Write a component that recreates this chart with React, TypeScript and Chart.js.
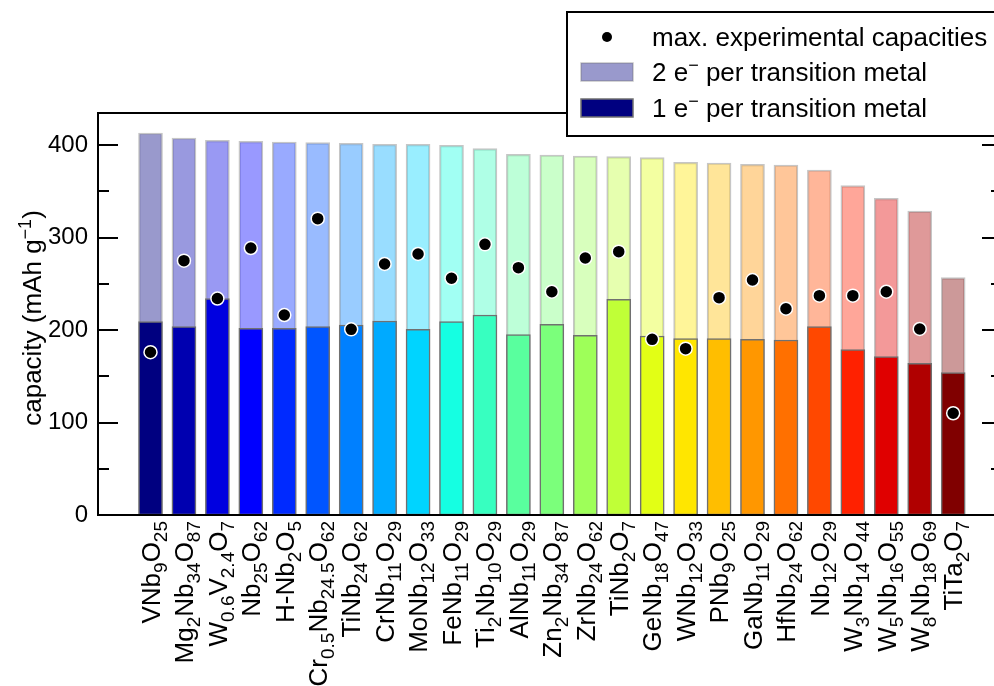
import React, { useEffect, useRef } from "react";
import { Chart, registerables } from "chart.js";

Chart.register(...registerables);

// ---------------- data ----------------
const categories = [
  "VNb_{9}O_{25}",
  "Mg_{2}Nb_{34}O_{87}",
  "W_{0.6}V_{2.4}O_{7}",
  "Nb_{25}O_{62}",
  "H-Nb_{2}O_{5}",
  "Cr_{0.5}Nb_{24.5}O_{62}",
  "TiNb_{24}O_{62}",
  "CrNb_{11}O_{29}",
  "MoNb_{12}O_{33}",
  "FeNb_{11}O_{29}",
  "Ti_{2}Nb_{10}O_{29}",
  "AlNb_{11}O_{29}",
  "Zn_{2}Nb_{34}O_{87}",
  "ZrNb_{24}O_{62}",
  "TiNb_{2}O_{7}",
  "GeNb_{18}O_{47}",
  "WNb_{12}O_{33}",
  "PNb_{9}O_{25}",
  "GaNb_{11}O_{29}",
  "HfNb_{24}O_{62}",
  "Nb_{12}O_{29}",
  "W_{3}Nb_{14}O_{44}",
  "W_{5}Nb_{16}O_{55}",
  "W_{8}Nb_{18}O_{69}",
  "TiTa_{2}O_{7}",
];

const twoElectron = [
  413, 407.6, 405, 404, 403.2, 402.5, 401.8, 400.7, 400.7, 399.6, 396, 389.9,
  389.2, 388.1, 387.4, 386.3, 381.3, 380.5, 379.1, 378.4, 373, 356, 342.3,
  328.6, 256.6,
];

const oneElectron = [
  209, 203.6, 233.9, 201.8, 201.8, 203.6, 205.4, 209.7, 200.7, 209, 216.2, 195,
  206.1, 194.3, 233.2, 193.5, 190.6, 190.6, 189.9, 189.2, 203.6, 178.7, 171.2,
  164, 153.9,
];

const experimental = [
  176, 275, 234, 288.6, 216.2, 320.4, 200.7, 271.4, 282.2, 255.9, 292.6, 267.4,
  241.4, 277.8, 284.7, 189.9, 179.8, 235, 254, 223, 237.1, 237.1, 241.4, 201.1,
  110,
];

const majorTicks = [0, 100, 200, 300, 400];
const minorTicks = [50, 150, 250, 350];

const legendLabels = [
  "max. experimental capacities",
  "2 e^{\u2212} per transition metal",
  "1 e^{\u2212} per transition metal",
];
const yTitle = "capacity (mAh g^{\u22121})";

// ---------------- styles ----------------
const FONT = '"Liberation Sans", Arial, Helvetica, sans-serif';
const CANVAS_W = 1010;
const CANVAS_H = 686;

const jetR: number[][] = [[0, 0], [0.35, 0], [0.66, 1], [0.89, 1], [1, 0.5]];
const jetG: number[][] = [[0, 0], [0.125, 0], [0.375, 1], [0.64, 1], [0.91, 0], [1, 0]];
const jetB: number[][] = [[0, 0.5], [0.11, 1], [0.34, 1], [0.65, 0], [1, 0]];

function seg(pts: number[][], t: number) {
  for (let i = 1; i < pts.length; i++) {
    if (t <= pts[i][0]) {
      const [x0, y0] = pts[i - 1];
      const [x1, y1] = pts[i];
      return y0 + ((t - x0) / (x1 - x0)) * (y1 - y0);
    }
  }
  return pts[pts.length - 1][1];
}
function jet(t: number) {
  return [
    Math.round(seg(jetR, t) * 255),
    Math.round(seg(jetG, t) * 255),
    Math.round(seg(jetB, t) * 255),
  ];
}
const n = categories.length;
const baseColors = categories.map((_, i) => jet(i / (n - 1)));
const darkColors = baseColors.map(([r, g, b]) => `rgb(${r},${g},${b})`);
const lightColors = baseColors.map(([r, g, b]) => `rgba(${r},${g},${b},0.4)`);
const darkEdge = "rgb(112,112,112)";
const lightEdge = "rgba(112,112,112,0.4)";

// ---------------- rich text helper ----------------
type Part = { t: string; k: "n" | "sub" | "sup" };
function parseRich(s: string): Part[] {
  const out: Part[] = [];
  const re = /([_^])\{([^}]*)\}/g;
  let last = 0;
  let m: RegExpExecArray | null;
  while ((m = re.exec(s))) {
    if (m.index > last) out.push({ t: s.slice(last, m.index), k: "n" });
    out.push({ t: m[2], k: m[1] === "_" ? "sub" : "sup" });
    last = re.lastIndex;
  }
  if (last < s.length) out.push({ t: s.slice(last), k: "n" });
  return out;
}
function richWidth(ctx: CanvasRenderingContext2D, parts: Part[], size: number, small: number) {
  let w = 0;
  for (const p of parts) {
    ctx.font = `${p.k === "n" ? size : small}px ${FONT}`;
    w += ctx.measureText(p.t).width;
  }
  return w;
}
function drawRich(
  ctx: CanvasRenderingContext2D,
  s: string,
  x: number,
  y: number,
  size: number,
  align: "left" | "right" | "center",
  opts: { small: number; subShift: number; supShift: number }
) {
  const parts = parseRich(s);
  const w = richWidth(ctx, parts, size, opts.small);
  let cx = align === "left" ? x : align === "right" ? x - w : x - w / 2;
  ctx.textAlign = "left";
  ctx.textBaseline = "alphabetic";
  for (const p of parts) {
    ctx.font = `${p.k === "n" ? size : opts.small}px ${FONT}`;
    const dy = p.k === "sub" ? opts.subShift : p.k === "sup" ? -opts.supShift : 0;
    ctx.fillText(p.t, cx, y + dy);
    cx += ctx.measureText(p.t).width;
  }
}

// ---------------- custom drawing plugin ----------------
const framePlugin = {
  id: "frame",
  afterDraw(chart: any) {
    const ctx: CanvasRenderingContext2D = chart.ctx;
    const { left, right, top, bottom } = chart.chartArea;
    const xs = chart.scales.x;
    const ys = chart.scales.y;
    ctx.save();
    ctx.fillStyle = "#000";
    ctx.strokeStyle = "#000";
    ctx.lineWidth = 2;

    // ticks (inward, both sides)
    const drawTick = (v: number, len: number) => {
      const py = Math.round(ys.getPixelForValue(v));
      ctx.beginPath();
      ctx.moveTo(left, py);
      ctx.lineTo(left + len, py);
      ctx.moveTo(right, py);
      ctx.lineTo(right - len, py);
      ctx.stroke();
    };
    majorTicks.forEach((v) => drawTick(v, 20));
    minorTicks.forEach((v) => drawTick(v, 11));

    // spines
    ctx.beginPath();
    ctx.rect(left, top, right - left, bottom - top);
    ctx.stroke();

    // x labels (rotated, with subscripts)
    const size = 26;
    const capH = size * 0.716;
    categories.forEach((lab, i) => {
      const cx = xs.getPixelForValue(i);
      ctx.save();
      ctx.translate(cx + capH / 2, bottom + 6);
      ctx.rotate(-Math.PI / 2);
      drawRich(ctx, lab, 0, 0, size, "right", { small: 19, subShift: 7, supShift: 10 });
      ctx.restore();
    });

    // y title
    ctx.save();
    ctx.translate(41, (top + bottom) / 2 + 4);
    ctx.rotate(-Math.PI / 2);
    drawRich(ctx, yTitle, 0, 0, 26, "center", { small: 18, subShift: 7, supShift: 10 });
    ctx.restore();

    // legend
    const lx = 567, ly = 12, lw = 440, lh = 124;
    ctx.fillStyle = "#fff";
    ctx.fillRect(lx, ly, lw, lh);
    ctx.lineWidth = 2;
    ctx.strokeStyle = "#000";
    ctx.strokeRect(lx, ly, lw, lh);
    const rows = [37, 72, 108];
    ctx.fillStyle = "#000";
    ctx.beginPath();
    ctx.arc(607, rows[0], 5, 0, Math.PI * 2);
    ctx.fill();
    const patch = (y: number, fill: string, edge: string) => {
      ctx.fillStyle = fill;
      ctx.fillRect(581, y - 9, 52, 18);
      ctx.strokeStyle = edge;
      ctx.lineWidth = 1.5;
      ctx.strokeRect(581, y - 9, 52, 18);
    };
    patch(rows[1], lightColors[0], lightEdge);
    patch(rows[2], darkColors[0], darkEdge);
    ctx.fillStyle = "#000";
    legendLabels.forEach((t, i) => {
      drawRich(ctx, t, 652, rows[i] + 9, 26, "left", { small: 18, subShift: 7, supShift: 10 });
    });
    ctx.restore();
  },
};

export default function App() {
  const ref = useRef<HTMLCanvasElement | null>(null);
  useEffect(() => {
    document.body.style.margin = "0";
    const canvas = ref.current!;
    const chart = new Chart(canvas, {
      type: "bar",
      data: {
        datasets: [
          {
            type: "scatter",
            label: legendLabels[0],
            data: experimental.map((v, i) => ({ x: i, y: v })),
            backgroundColor: "#000",
            borderColor: "#fff",
            borderWidth: 1.5,
            pointRadius: 6.5,
            order: 0,
          } as any,
          {
            label: legendLabels[2],
            data: oneElectron.map((v, i) => ({ x: i, y: v })),
            backgroundColor: darkColors,
            borderColor: darkEdge,
            borderWidth: 1.5,
            borderSkipped: false,
            grouped: false,
            barThickness: 24,
            order: 1,
          },
          {
            label: legendLabels[1],
            data: twoElectron.map((v, i) => ({ x: i, y: v })),
            backgroundColor: lightColors,
            borderColor: lightEdge,
            borderWidth: 1.5,
            borderSkipped: false,
            grouped: false,
            barThickness: 24,
            order: 2,
          },
        ],
      },
      options: {
        responsive: false,
        animation: false,
        devicePixelRatio: 1,
        layout: { padding: { left: 0, right: 7, top: 113, bottom: 171 } },
        plugins: { legend: { display: false }, tooltip: { enabled: false } },
        scales: {
          x: {
            type: "linear",
            display: false,
            offset: false,
            grid: { offset: false },
            min: -1.57,
            max: 25.46,
            ticks: { stepSize: 1, includeBounds: false },
          },
          y: {
            type: "linear",
            min: 0,
            max: 434.6,
            afterFit: (s: any) => {
              s.width = 98;
            },
            grid: { display: false, drawTicks: false },
            border: { display: false },
            ticks: {
              stepSize: 100,
              includeBounds: false,
              padding: 10,
              color: "#000",
              font: { family: FONT, size: 24 },
            },
          },
        },
      } as any,
      plugins: [framePlugin],
    });
    return () => chart.destroy();
  }, []);
  return (
    <div
      style={{
        position: "fixed",
        left: 0,
        top: 0,
        width: 994,
        height: 686,
        overflow: "hidden",
        background: "#fff",
      }}
    >
      <canvas ref={ref} width={CANVAS_W} height={CANVAS_H} style={{ display: "block" }} />
    </div>
  );
}
